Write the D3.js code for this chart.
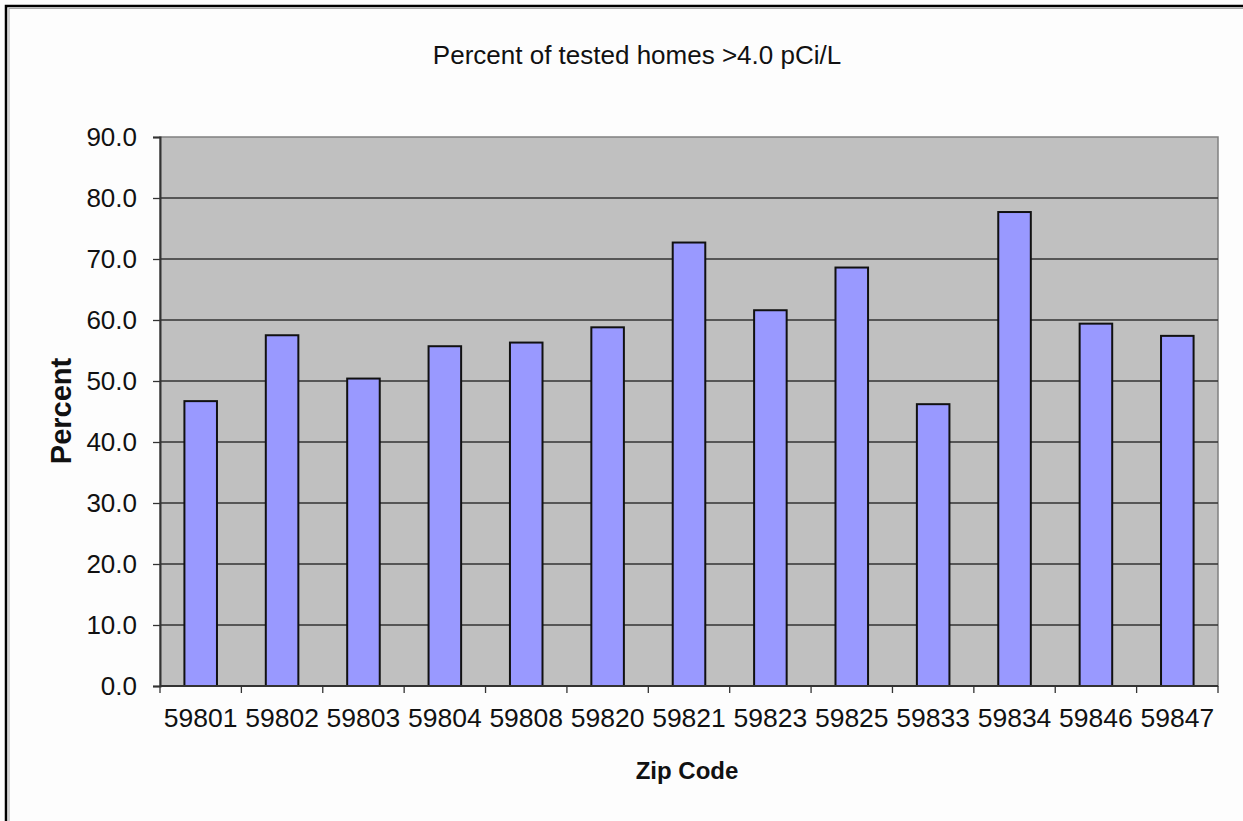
<!DOCTYPE html>
<html>
<head>
<meta charset="utf-8">
<script src="https://cdn.jsdelivr.net/npm/d3@7"></script>
<style>
  html, body { margin: 0; padding: 0; background: #fdfdfd; }
  svg { display: block; }
  text { font-family: "Liberation Sans", Arial, sans-serif; fill: #111; }
</style>
</head>
<body>
<svg id="chart" width="1243" height="821"></svg>
<script>
// Radon test results by zip code
const zipCodes = ["59801", "59802", "59803", "59804", "59808", "59820", "59821",
                  "59823", "59825", "59833", "59834", "59846", "59847"];
const percentOver = [46.7, 57.5, 50.4, 55.7, 56.3, 58.8, 72.7, 61.6, 68.6, 46.2, 77.7, 59.4, 57.4];
const yTicks = [0, 10, 20, 30, 40, 50, 60, 70, 80, 90];

const svg = d3.select("#chart");
const plot = { left: 160, right: 1218, top: 137, bottom: 686 };

// outer frame: heavy black rule with a thin grey rule inside
svg.append("rect").attr("x", 6).attr("y", 6).attr("width", 1300).attr("height", 900)
  .attr("fill", "none").attr("stroke", "#000").attr("stroke-width", 2.5);
svg.append("rect").attr("x", 9).attr("y", 8.5).attr("width", 1300).attr("height", 900)
  .attr("fill", "none").attr("stroke", "#a8a8a8").attr("stroke-width", 1);

const x = d3.scaleBand().domain(zipCodes).range([plot.left, plot.right])
  .paddingInner(0.6).paddingOuter(0.3);
const y = d3.scaleLinear().domain([0, 90]).range([plot.bottom, plot.top]);

// plot background
svg.append("rect").attr("x", plot.left).attr("y", plot.top)
  .attr("width", plot.right - plot.left).attr("height", plot.bottom - plot.top)
  .attr("fill", "#c0c0c0").attr("stroke", "#808080").attr("stroke-width", 1.5);

// horizontal gridlines
svg.append("g").selectAll("line").data(yTicks.filter(d => d > 0 && d < 90)).join("line")
  .attr("x1", plot.left).attr("x2", plot.right)
  .attr("y1", d => y(d)).attr("y2", d => y(d))
  .attr("stroke", "#333").attr("stroke-width", 1.3);

// bars
svg.append("g").selectAll("rect").data(zipCodes).join("rect")
  .attr("x", d => x(d))
  .attr("y", (d, i) => y(percentOver[i]))
  .attr("width", x.bandwidth())
  .attr("height", (d, i) => y(0) - y(percentOver[i]))
  .attr("fill", "#9999ff").attr("stroke", "#111").attr("stroke-width", 2);

// y axis
const yAxis = d3.axisLeft(y).tickValues(yTicks).tickFormat(d3.format(".1f"))
  .tickSize(7).tickPadding(16);
const gy = svg.append("g").attr("transform", `translate(${plot.left},0)`).call(yAxis);
gy.select(".domain").attr("stroke", "#333").attr("stroke-width", 2);
gy.selectAll(".tick line").attr("stroke", "#333").attr("stroke-width", 1.3);
gy.selectAll(".tick text").attr("font-size", 26).attr("fill", "#111")
  .attr("font-family", "Liberation Sans, Arial, sans-serif");

// x axis: ticks sit on the category boundaries
const gx = svg.append("g");
gx.append("line").attr("x1", plot.left).attr("x2", plot.right)
  .attr("y1", plot.bottom).attr("y2", plot.bottom)
  .attr("stroke", "#333").attr("stroke-width", 2);
const bounds = d3.range(zipCodes.length + 1).map(i => plot.left + i * x.step());
gx.selectAll("line.tk").data(bounds).join("line").attr("class", "tk")
  .attr("x1", d => d).attr("x2", d => d)
  .attr("y1", plot.bottom).attr("y2", plot.bottom + 7)
  .attr("stroke", "#333").attr("stroke-width", 1.3);
gx.selectAll("text").data(zipCodes).join("text")
  .attr("x", d => x(d) + x.bandwidth() / 2)
  .attr("y", 727)
  .attr("text-anchor", "middle")
  .attr("font-size", 26.5)
  .text(d => d);

// titles
svg.append("text").attr("x", 637).attr("y", 64).attr("text-anchor", "middle")
  .attr("font-size", 26).text("Percent of tested homes >4.0 pCi/L");
svg.append("text").attr("x", 687).attr("y", 779).attr("text-anchor", "middle")
  .attr("font-size", 24).attr("font-weight", "bold").text("Zip Code");
svg.append("text").attr("transform", "translate(71,411) rotate(-90)")
  .attr("text-anchor", "middle").attr("font-size", 29).attr("font-weight", "bold")
  .text("Percent");
</script>
</body>
</html>
